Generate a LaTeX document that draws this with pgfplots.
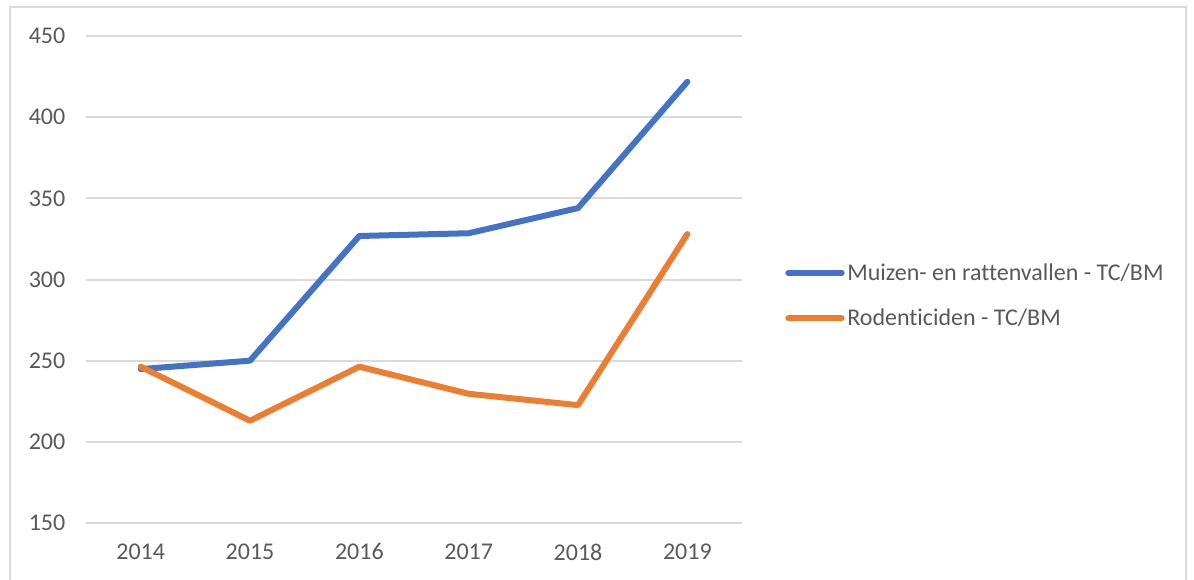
\documentclass[border=0pt]{standalone}
\usepackage{pgfplots}
\pgfplotsset{compat=1.18}
\usepackage{fontspec}
\setmainfont{Carlito}[Ligatures=NoCommon]
\definecolor{cblue}{HTML}{4472C4}
\definecolor{corange}{HTML}{ED7D31}
\definecolor{cgrid}{HTML}{D9D9D9}
\definecolor{ctext}{HTML}{595959}
\begin{document}
\begin{tikzpicture}[x=1pt,y=1pt]
\path[use as bounding box] (0,0) rectangle (895.5,434.25);
\draw[cgrid, line width=1.2pt] (7.5,-5) -- (7.5,429) -- (889.5,429) -- (889.5,-5);
\begin{axis}[
  at={(64.5pt,42pt)}, anchor=south west,
  scale only axis, width=492pt, height=365.25pt,
  xmin=-0.5, xmax=5.5, ymin=150, ymax=450,
  xtick={0,1,2,3,4,5},
  xticklabels={2014,2015,2016,2017,2018,2019},
  ytick={150,200,250,300,350,400,450},
  axis line style={draw=none},
  ymajorgrids, grid style={cgrid, line width=1.5pt},
  major tick length=0pt,
  tick label style={font=\fontsize{18}{21}\selectfont, text=ctext},
  /pgf/number format/assume math mode=true,
  yticklabel style={xshift=-12pt},
  xticklabel style={yshift=-12pt},
  legend style={draw=none, fill=none, at={(1.0595,0.467)}, anchor=west,
    font=\fontsize{18}{21}\selectfont, text=ctext, row sep=16pt,
    nodes={inner sep=2pt}},
  legend cell align=left,
  legend image code/.code={\draw[#1, line width=4.5pt, line cap=round] (0pt,0pt) -- (40pt,0pt);},
]
\addplot[cblue, line width=4.5pt, line cap=round, line join=round] coordinates {
(0,244.8) (1,250) (2,326.8) (3,328.5) (4,344) (5,421.8)};
\addlegendentry{Muizen- en rattenvallen - TC/BM}
\addplot[corange, line width=4.5pt, line cap=round, line join=round] coordinates {
(0,246.3) (1,213) (2,246.3) (3,229.6) (4,222.6) (5,328)};
\addlegendentry{Rodenticiden - TC/BM}
\end{axis}
\end{tikzpicture}
\end{document}
